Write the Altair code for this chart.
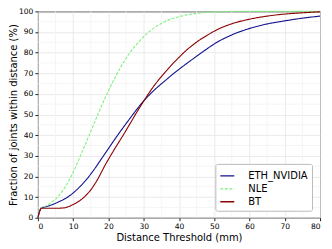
import altair as alt
import pandas as pd

series_names = ["ETH_NVIDIA", "NLE", "BT"]
colors = ["#10108c", "#7cf07c", "#8b0000"]

eth_x = [0, 1, 2, 4, 6, 8, 10, 12, 14, 16, 18, 20, 22, 24, 26, 28, 30, 32, 34, 36, 38, 40, 42, 44, 46, 48, 50, 55, 60, 65, 70, 75, 80]
eth_y = [0, 4.8, 5.2, 6.3, 7.8, 9.5, 12, 15.2, 19, 23.5, 28.5, 33.5, 38.5, 43.3, 47.9, 52.4, 56.6, 60.2, 63.4, 66.3, 69.2, 71.9, 74.5, 77, 79.5, 81.9, 84.2, 88.6, 91.7, 93.9, 95.4, 96.7, 97.7]

nle_x = [0, 1, 2, 3, 4, 5, 6, 7, 8, 9, 10, 11, 12, 13, 14, 15, 16, 17, 18, 19, 20, 21, 22, 23, 24, 25, 26, 27, 28, 29, 30, 32, 34, 36, 38, 40, 42, 45, 48, 52, 56, 60, 70, 80]
nle_y = [0, 4.8, 5.5, 6.5, 7.6, 9, 10.8, 13, 15.6, 18.6, 22, 25.8, 29.8, 33.8, 37.8, 41.8, 46, 50, 54, 57.8, 61.5, 65, 68.3, 71.5, 74.5, 77.3, 79.8, 82, 84, 86, 87.8, 90.8, 93.2, 95, 96.4, 97.4, 98.2, 99, 99.5, 99.8, 100, 100, 100, 100]

bt_x = [0, 1, 3, 5, 7, 8, 9, 10, 11, 12, 13, 14, 15, 16, 17, 18, 19, 20, 22, 24, 26, 28, 30, 32, 34, 36, 38, 40, 42, 44, 46, 48, 50, 55, 60, 65, 70, 75, 80]
bt_y = [0, 4.6, 4.6, 4.6, 4.7, 5, 5.6, 6.4, 7.3, 8.4, 9.8, 11.5, 13.5, 16, 18.8, 22, 25.3, 28.3, 34, 39.5, 45.2, 51, 56.5, 61.7, 66.3, 70.4, 74.2, 77.7, 81, 83.8, 86.3, 88.4, 90.4, 94, 96.2, 97.7, 98.7, 99.3, 99.8]

x_ticks = [0, 10, 20, 30, 40, 50, 60, 70, 80]
y_ticks = [0, 10, 20, 30, 40, 50, 60, 70, 80, 90, 100]
x_minor = [5, 15, 25, 35, 45, 55, 65, 75]
y_minor = [5, 15, 25, 35, 45, 55, 65, 75, 85, 95]

rows = []
for name, xs, ys in zip(series_names, [eth_x, nle_x, bt_x], [eth_y, nle_y, bt_y]):
    for i, (a, b) in enumerate(zip(xs, ys)):
        rows.append({"series": name, "x": a, "y": b, "order": i})
df = pd.DataFrame(rows)

FONT = "DejaVu Sans"
W, H = 283, 207

xscale = alt.Scale(domain=[0, 80], nice=False, zero=False)
yscale = alt.Scale(domain=[0, 100], nice=False, zero=False)
XT = "Distance Threshold (mm)"
YT = "Fraction of joints within distance (%)"
xaxis = alt.Axis(values=x_ticks, grid=True, format="d")
yaxis = alt.Axis(values=y_ticks, grid=True, format="d",
                 titleX=-19, titleY=H / 2, titleBaseline="bottom", titleAngle=270)

xminor = alt.Chart(pd.DataFrame({"x": x_minor})).mark_rule(
    color="#f2f2f2", strokeWidth=0.8
).encode(x=alt.X("x:Q", scale=xscale, axis=xaxis, title=XT))
yminor = alt.Chart(pd.DataFrame({"y": y_minor})).mark_rule(
    color="#f2f2f2", strokeWidth=0.8
).encode(y=alt.Y("y:Q", scale=yscale, axis=yaxis, title=YT))

legend = alt.Legend(
    title=None, orient="none", legendX=178, legendY=153,
    symbolType="stroke", symbolSize=196, symbolStrokeWidth=1.3,
    labelFont=FONT, labelFontSize=10, labelColor="#000",
    strokeColor="#bbbbbb", fillColor="white", padding=4,
    cornerRadius=2, rowPadding=0, labelOffset=13,
)

lines = alt.Chart(df).mark_line(strokeWidth=1.1, interpolate="monotone").encode(
    x=alt.X("x:Q", scale=xscale, title=XT, axis=xaxis),
    y=alt.Y("y:Q", scale=yscale, title=YT, axis=yaxis),
    color=alt.Color("series:N", scale=alt.Scale(domain=series_names, range=colors), legend=legend),
    strokeDash=alt.StrokeDash("series:N", scale=alt.Scale(domain=series_names, range=[[1, 0], [3, 1.5], [1, 0]]), legend=legend),
    order="order:Q",
)

chart = alt.layer(xminor, yminor, lines).properties(
    width=W, height=H,
    autosize=alt.AutoSizeParams(type="none"),
    padding={"left": 30, "top": 3, "right": 4, "bottom": 31},
).configure_view(
    stroke="#222222", strokeWidth=1
).configure_axis(
    labelFont=FONT, titleFont=FONT, labelFontSize=7.6, titleFontSize=10,
    titleFontWeight="normal", labelColor="#000", titleColor="#000",
    gridColor="#e4e4e4", gridWidth=0.8, domain=False,
    tickColor="#222", tickSize=3, labelPadding=2,
).configure_axisX(titlePadding=2)

chart.save("out.html", embed_options={"renderer": "svg", "actions": False})
